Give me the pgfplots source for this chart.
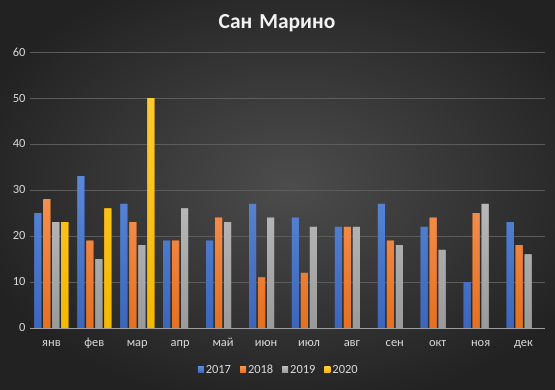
\documentclass[border=0pt]{standalone}
\usepackage{pgfplots}
\pgfplotsset{compat=1.18}
\usepackage{fontspec}
\setmainfont{Carlito}
\definecolor{c17t}{HTML}{5B88D8}
\definecolor{c17b}{HTML}{3B66BC}
\definecolor{c18t}{HTML}{F58F4E}
\definecolor{c18b}{HTML}{E57020}
\definecolor{c19t}{HTML}{B8B8B8}
\definecolor{c19b}{HTML}{9A9A9A}
\definecolor{c20t}{HTML}{FFCA30}
\definecolor{c20b}{HTML}{F5B800}
\definecolor{c17}{HTML}{4472C4}
\definecolor{c18}{HTML}{ED7D31}
\definecolor{c19}{HTML}{A5A5A5}
\definecolor{c20}{HTML}{FFC000}
\definecolor{bgin}{HTML}{4C4C4C}
\definecolor{bgout}{HTML}{222222}
\definecolor{gridc}{HTML}{5C5C5C}
\definecolor{lblc}{HTML}{D9D9D9}
\definecolor{titlec}{HTML}{F2F2F2}
\begin{document}
\begin{tikzpicture}
\useasboundingbox (0,0) rectangle (555bp,390bp);
\begin{scope}
\clip (0,0) rectangle (555bp,390bp);
\shade[inner color=bgin, outer color=bgout] (-40bp,-20bp) rectangle (620bp,430bp);
\end{scope}
\node[font=\bfseries\fontsize{21.5}{25}\selectfont, text=titlec] at (277bp,367bp) {Сан\,\,Марино};
\begin{axis}[
  at={(30bp,62bp)}, anchor=south west,
  scale only axis, width=515bp, height=276bp,
  xmin=-0.5, xmax=11.5, ymin=0, ymax=60,
  ytick={0,10,...,60}, xtick={0,...,11},
  xticklabels={янв,фев,мар,апр,май,июн,июл,авг,сен,окт,ноя,дек},
  ymajorgrids, grid style={gridc, line width=0.8pt},
  axis x line*=bottom, axis y line*=left,
  x axis line style={draw=gridc!60!white, line width=0.8pt, -},
  y axis line style={draw=none},
  major tick length=0pt,
  /pgf/number format/assume math mode=true,
  ticklabel style={text=lblc, font=\fontsize{12.5}{14}\selectfont},
  yticklabel style={xshift=-1bp},
  xticklabel style={anchor=base, yshift=-18bp},
  ybar=2bp, bar width=7bp,
  legend style={at={(0.483,-0.152)}, anchor=center, draw=none, fill=none,
    text=lblc, font=\fontsize{12.5}{14}\selectfont, legend columns=4,
    /tikz/every even column/.append style={column sep=7bp}},
  legend image code/.code={\fill[#1] (0bp,-3bp) rectangle (6bp,3bp);},
]
\addplot[fill=c17, top color=c17t, bottom color=c17b, draw=none] coordinates {(0,25) (1,33) (2,27) (3,19) (4,19) (5,27) (6,24) (7,22) (8,27) (9,22) (10,10) (11,23)};
\addplot[fill=c18, top color=c18t, bottom color=c18b, draw=none] coordinates {(0,28) (1,19) (2,23) (3,19) (4,24) (5,11) (6,12) (7,22) (8,19) (9,24) (10,25) (11,18)};
\addplot[fill=c19, top color=c19t, bottom color=c19b, draw=none] coordinates {(0,23) (1,15) (2,18) (3,26) (4,23) (5,24) (6,22) (7,22) (8,18) (9,17) (10,27) (11,16)};
\addplot[fill=c20, top color=c20t, bottom color=c20b, draw=none] coordinates {(0,23) (1,26) (2,50)};
\legend{2017,2018,2019,2020}
\end{axis}
\end{tikzpicture}
\end{document}
